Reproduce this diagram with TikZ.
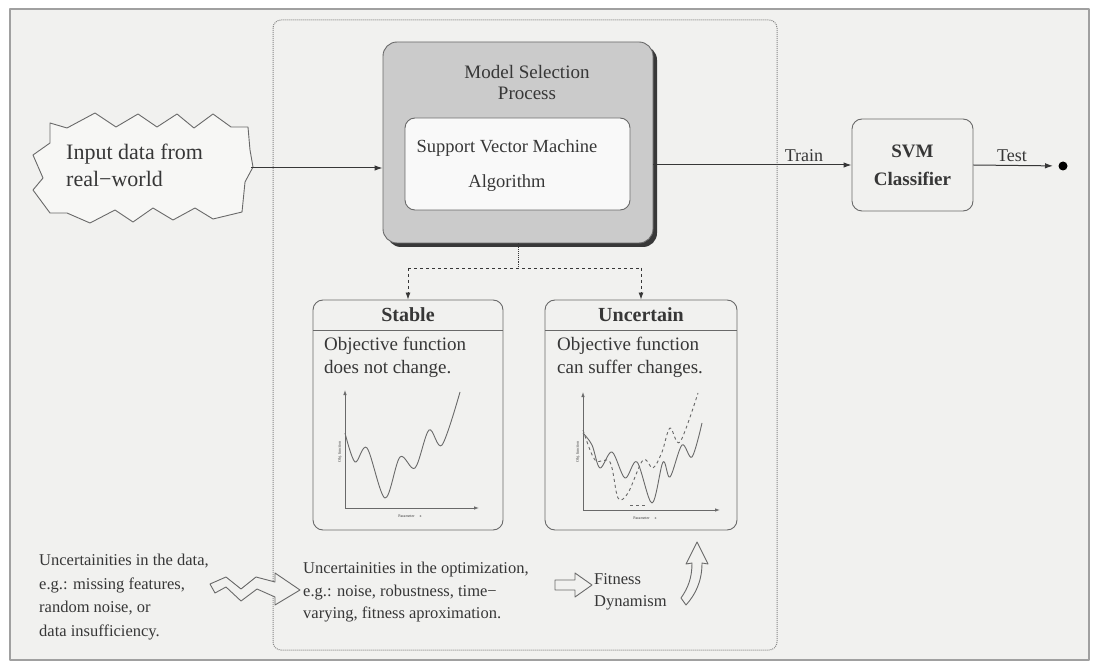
\documentclass[tikz,border=0pt]{standalone}
\usepackage{fontspec}
\setmainfont{Liberation Serif}
\usetikzlibrary{arrows.meta}
\definecolor{paper}{RGB}{241,241,239}
\definecolor{ink}{RGB}{55,55,55}
\definecolor{edge}{RGB}{105,105,105}
\definecolor{boxgray}{RGB}{203,203,203}
\definecolor{framegray}{RGB}{160,160,160}

\begin{document}
\begin{tikzpicture}[x=1pt,y=-1pt,line join=round,
  every node/.style={text=ink},
  flow/.style={draw=ink,line width=1pt,-{Latex[length=8pt,width=5.5pt]}},
  branch/.style={draw=ink,line width=0.9pt,dashed,-{Latex[length=7pt,width=5pt]}},
  roundbox/.style={draw=edge,line width=0.9pt,rounded corners=10pt,inner sep=0pt},
  outline/.style={draw=edge,line width=0.9pt,fill=paper},
  curve/.style={draw=edge,line width=0.9pt},
  axis/.style={draw=edge,line width=0.8pt,-{Latex[length=5pt,width=3.5pt]}},
  tinylabel/.style={font=\fontsize{4}{4}\selectfont,inner sep=0pt},
  bodytext/.style={font=\fontsize{19}{23}\selectfont,align=left,anchor=north west,inner sep=0pt},
  notetext/.style={font=\fontsize{16.5}{23.5}\selectfont,align=left,anchor=north west,inner sep=0pt}
]
\useasboundingbox (0,0) rectangle (1093,663);
\fill[white] (0,0) rectangle (1093,663);
% page frame
\draw[fill=paper,draw=framegray,line width=1.6pt] (10,9) rectangle (1089,660);

% dotted boundary of the model selection stage
\draw[densely dotted,draw=edge!80,line width=1pt,rounded corners=8pt] (273,20) rectangle (777,650);

% jagged input shape
\draw[outline,fill=paper!60!white]
  (50,123) -- (67,128) -- (95,113) -- (116,127) -- (138,114) -- (157,127) -- (177,114)
  -- (194,128) -- (213,114) -- (231,127) -- (248,127) -- (250,150) -- (253,167)
  -- (245,182) -- (242,212) -- (213,219) -- (195,208) -- (173,220) -- (153,208)
  -- (133,222) -- (115,210) -- (90,223) -- (67,213) -- (50,213) -- (33,190)
  -- (43,178) -- (33,155) -- (50,143) -- cycle;
\node[minimum width=220pt,minimum height=110pt,inner sep=0pt] (input) at (141,168) {};
\node[font=\fontsize{22}{27}\selectfont,align=left,anchor=north west,inner sep=0pt]
  (inputtext) at (66,144) {Input data from\\real\textminus world};

% model selection process box with shadow
\fill[black!78,rounded corners=14pt] (387,46) rectangle (657,247);
\node[draw=edge,line width=0.9pt,fill=boxgray,rounded corners=14pt,
  minimum width=270pt,minimum height=201pt,inner sep=0pt] (msp) at (518,142.5) {};
\node[font=\fontsize{19}{21}\selectfont,align=center] (msptitle) at (527,83) {Model Selection\\Process};
\node[roundbox,fill=white!60!paper,minimum width=225pt,minimum height=92pt] (algo) at (517.5,164) {};
\node[font=\fontsize{18.5}{35}\selectfont,align=center] (algotext) at (507,166) {Support Vector Machine\\Algorithm};

% classifier and output
\node[roundbox,fill=paper,minimum width=121pt,minimum height=92pt,
  font=\bfseries\fontsize{19}{28}\selectfont,align=center] (svmc) at (912.5,165) {SVM\\Classifier};
\node[circle,fill=black,inner sep=0pt,minimum size=9pt] (dot) at (1063,166) {};

\draw[flow] (input.east) -- (input.east -| msp.west);
\draw[flow] (msp.east |- svmc.west) -- (svmc.west)
  node[pos=0.76,above,font=\fontsize{18}{18}\selectfont,inner sep=3pt] {Train};
\draw[flow,shorten >=10pt] (svmc.east) -- (dot.center)
  node[pos=0.43,above,font=\fontsize{18}{18}\selectfont,inner sep=3pt] {Test};

% scenario boxes
\node[roundbox,fill=paper,minimum width=190pt,minimum height=230pt] (stable) at (408,415) {};
\node[roundbox,fill=paper,minimum width=192pt,minimum height=230pt] (uncert) at (641,415) {};
\draw[edge,line width=0.9pt] (313,330) -- (503,330);
\draw[edge,line width=0.9pt] (545,330) -- (737,330);
\node[font=\bfseries\fontsize{20}{20}\selectfont] (stabletitle) at (408,315) {Stable};
\node[font=\bfseries\fontsize{20}{20}\selectfont] (uncerttitle) at (641,315) {Uncertain};
\node[bodytext] (stabletext) at (324,337) {Objective function\\does not change.};
\node[bodytext] (uncerttext) at (557,337) {Objective function\\can suffer changes.};

% branches from the selection process
\coordinate (split) at (msp.south |- 0,268);
\draw[densely dotted,draw=ink,line width=0.9pt] (msp.south) -- (split);
\draw[dashed,draw=ink,line width=0.9pt] (stable.north |- split) -- (uncert.north |- split);
\draw[branch] (stable.north |- split) -- (stable.north);
\draw[branch] (uncert.north |- split) -- (uncert.north);

% stable objective landscape
\draw[axis] (345,508) -- (345,390);
\draw[axis] (345,508) -- (479,508);
\node[tinylabel,rotate=90] (stabley) at (340,452) {Obj. function};
\node[tinylabel] (stablex) at (410,516) {Parameter \quad x};
\draw[curve] plot[smooth,tension=0.55] coordinates {(345,433) (355,462) (367,448) (385,498) (400,457) (415,468) (429,430) (442,445) (460,392)};

% uncertain objective landscape
\draw[axis] (583,510) -- (583,392);
\draw[axis] (583,510) -- (720,510);
\node[tinylabel,rotate=90] (uncerty) at (578,452) {Obj. function};
\node[tinylabel] (uncertx) at (645,518) {Parameter \quad x};
\draw[curve] plot[smooth,tension=0.55] coordinates {(583,433) (592,445) (600,468) (612,452) (625,478) (637,462) (652,503) (663,462) (670,477) (682,445) (692,457) (702,423)};
\draw[curve,dashed] plot[smooth,tension=0.55] coordinates {(583,430) (595,460) (610,462) (618,498) (628,493) (643,460) (653,468) (662,452) (670,428) (680,442) (698,393)};
\draw[curve,dashed] (630,505) -- (646,505);

% notes on uncertainty
\node[notetext] (datanote) at (39,554) {Uncertainities in the data,\\e.g.: missing features,\\random noise, or\\data insufficiency.};
\node[notetext,font=\fontsize{16.5}{22.5}\selectfont] (optnote) at (303,562) {Uncertainities in the optimization,\\e.g.: noise, robustness, time\textminus\\varying, fitness aproximation.};
\node[notetext,font=\fontsize{16.5}{22}\selectfont] (fitness) at (594,573) {Fitness\\Dynamism};

% zigzag arrow
\draw[outline] (210,584) -- (226,577) -- (241,589) -- (256,577) -- (275,582) -- (275,573)
  -- (300,590) -- (275,605) -- (275,597) -- (257,589) -- (241,601) -- (226,587)
  -- (215,593) -- cycle;
% block arrow
\draw[outline] (555,580) -- (575,580) -- (575,573) -- (592,585) -- (575,597) -- (575,590)
  -- (555,590) -- cycle;
% curved upward arrow
\draw[outline] (697,542) -- (708,564) -- (702,563) .. controls (702,582) and (695,595) .. (686,605)
  -- (681,598) .. controls (688,588) and (692,578) .. (692,563) -- (686,564) -- cycle;
\end{tikzpicture}
\end{document}
